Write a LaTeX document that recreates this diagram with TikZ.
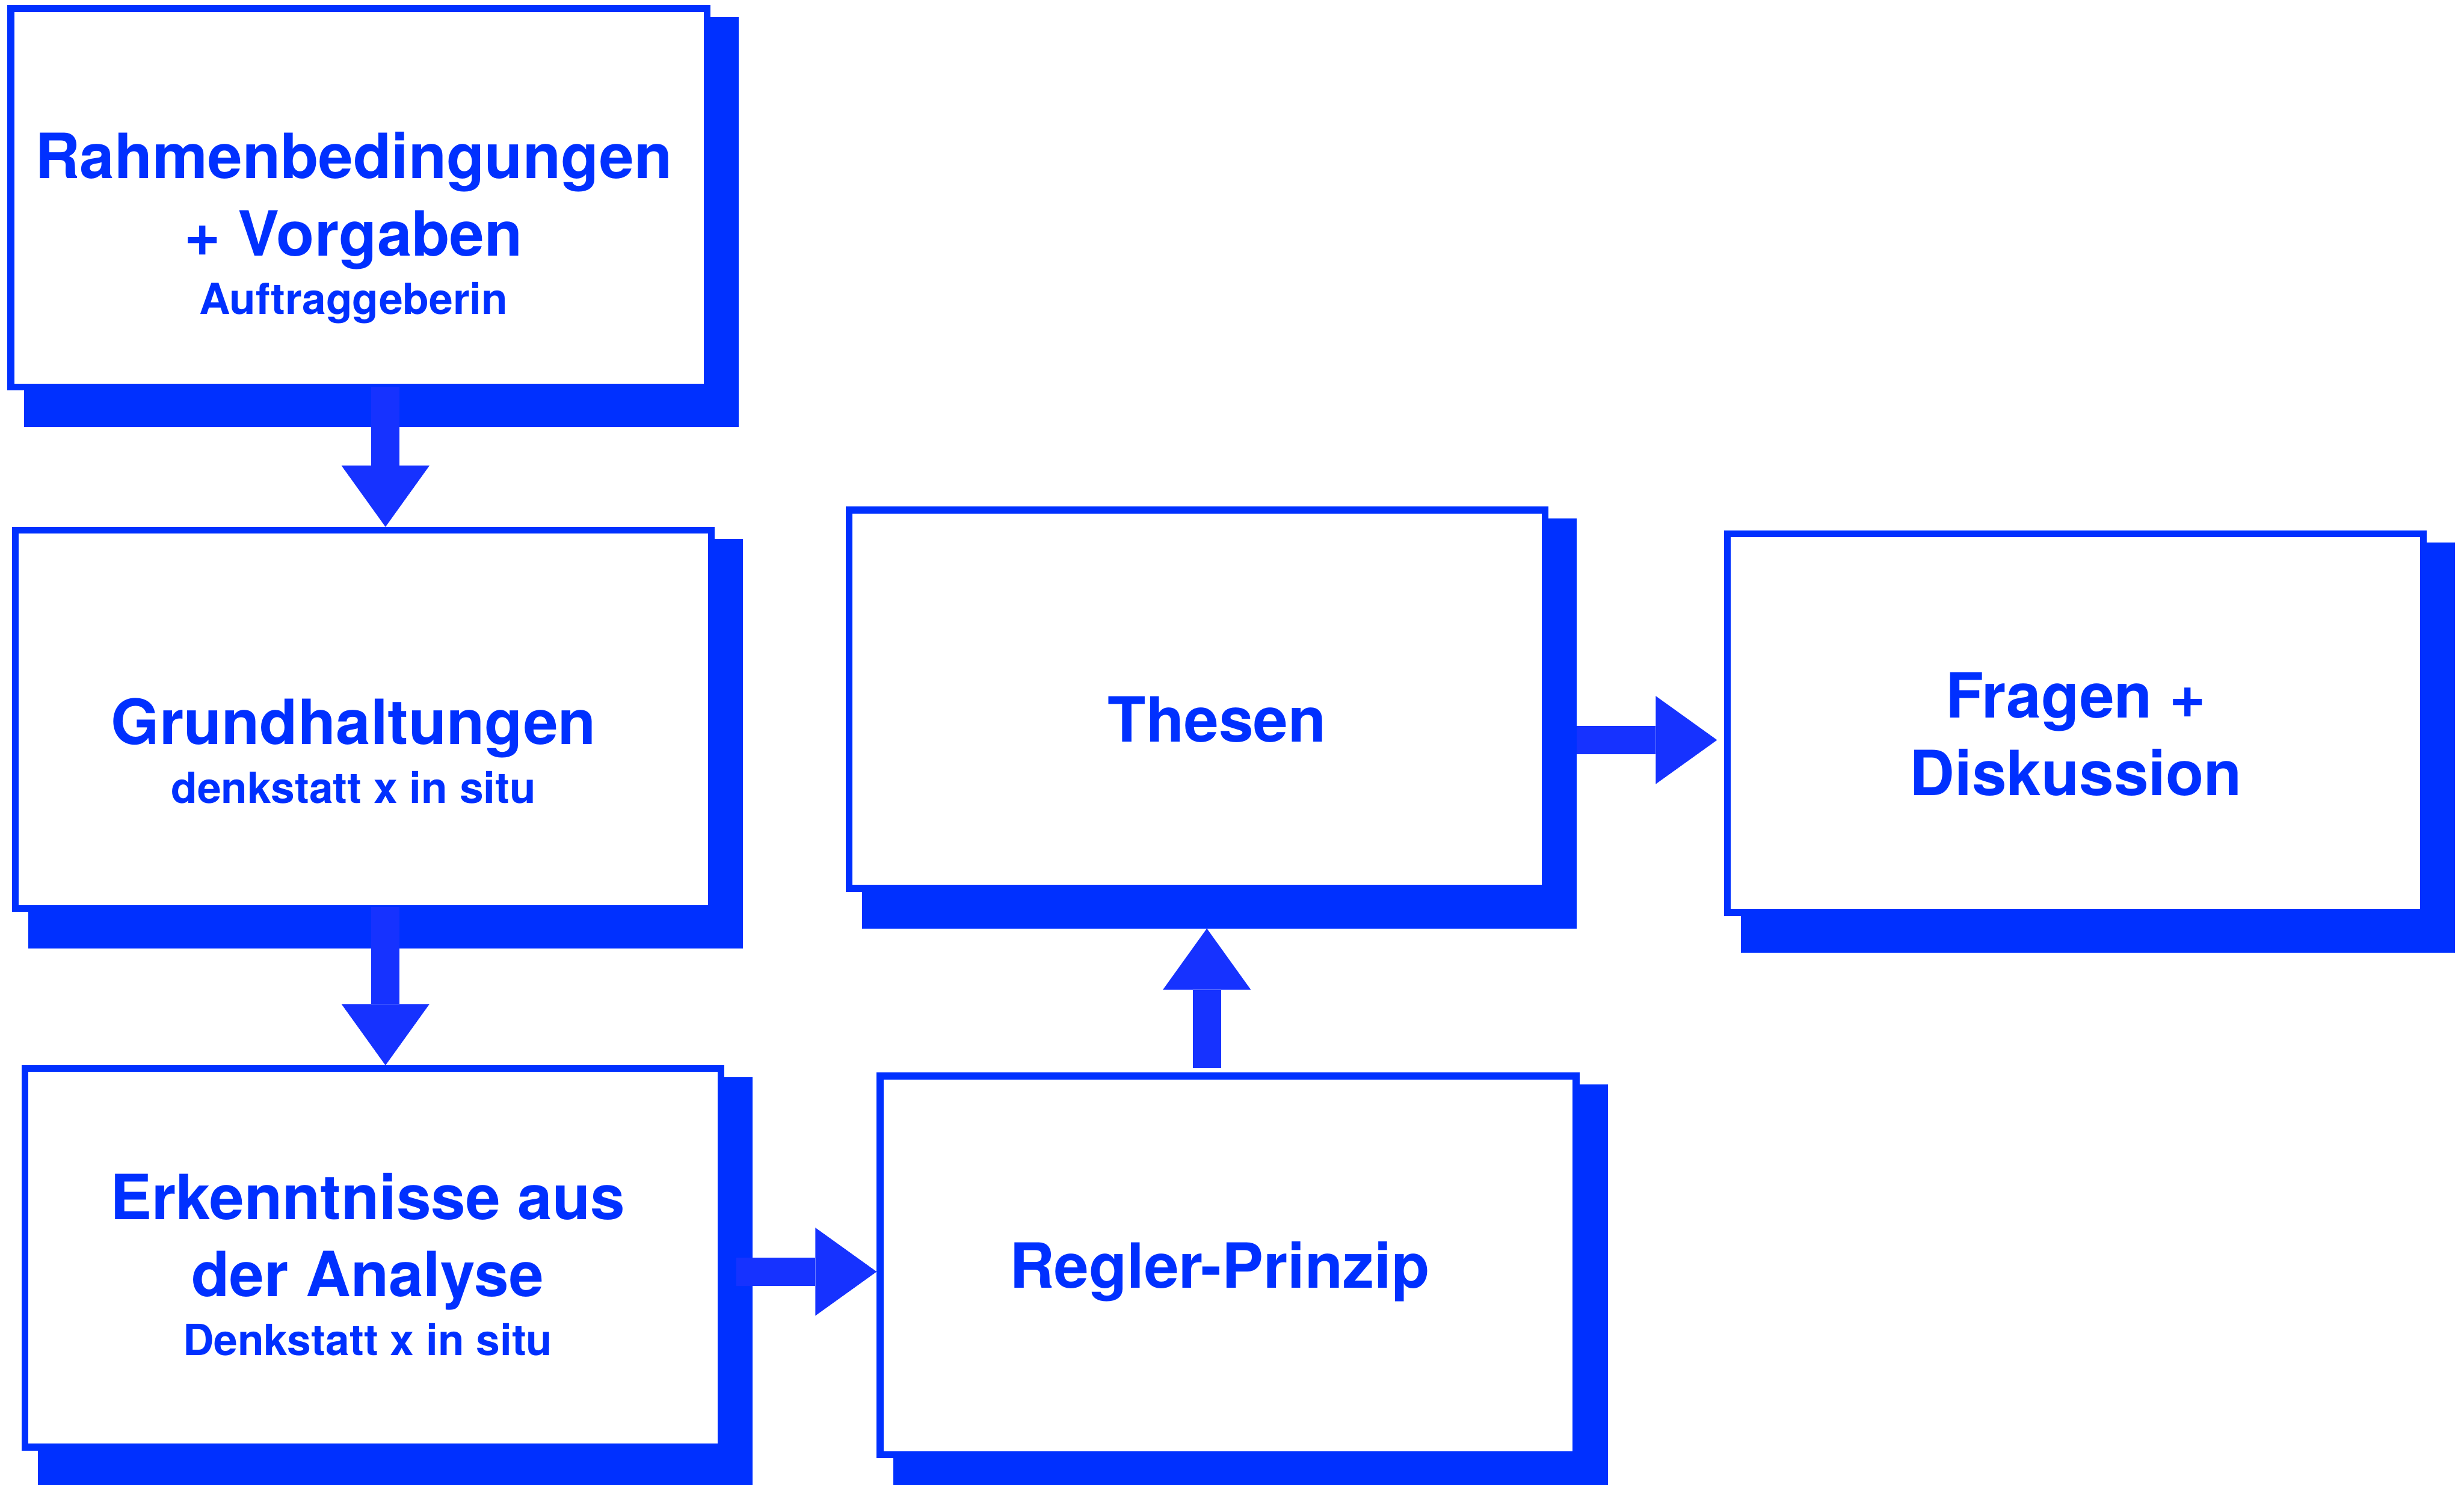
\documentclass[tikz,border=0pt]{standalone}
\usepackage{fontspec}
\setmainfont{TeX Gyre Heros}
\usepackage{tikz}
\usepackage{xcolor}
\usetikzlibrary{arrows.meta,backgrounds}

\definecolor{boxblue}{HTML}{0030FF}
\definecolor{arrowblue}{HTML}{1632FF}
\newcommand{\subtextfont}{\fontsize{7.77}{9}\selectfont}

\begin{document}
\begin{tikzpicture}[x=0.01cm,y=-0.01cm,font=\fontsize{11.27}{14.03}\selectfont\bfseries,
  box/.style={draw=boxblue,line width=0.043cm,fill=white,minimum width=4.427cm,minimum height=2.407cm,inner sep=0pt},
  boxtext/.style={text=boxblue,align=center,inner sep=0pt},
  blockarrow/.style={draw=arrowblue,line width=0.18cm,-{Triangle[width=0.56cm,length=0.39cm,line width=0pt]}}]
  \useasboundingbox (0,0) rectangle (1568,945);
  \node[box] (b1) at (228.4,125.8) {};
  \node[box] (b2) at (231.3,457.9) {};
  \node[box] (b3) at (237.4,800.6) {};
  \node[box] (b4) at (781.5,805.3) {};
  \node[box] (b5) at (761.7,445) {};
  \node[box] (b6) at (1320.8,460.3) {};
  \begin{scope}[on background layer]
    \foreach \n in {b1,b2,b3,b4,b5,b6}{ \coordinate (\n sh) at ([shift={(18,23.4)}]\n.south east); \fill[boxblue] ([shift={(10.5,7.5)}]\n.north west) rectangle (\n sh); }
  \end{scope}
  \node[boxtext] (t1) at (225,145) {Rahmenbedingungen\\+ Vorgaben\\[-3.45pt]{\subtextfont Auftraggeberin}};
  \node[boxtext] (t2) at (225,477.9) {Grundhaltungen\\[-3.45pt]{\subtextfont denkstatt x in situ}};
  \node[boxtext] (t3) at (234,804.6) {Erkenntnisse aus\\der Analyse\\[-3.45pt]{\subtextfont Denkstatt x in situ}};
  \node[boxtext] (t4) at (776,809.5) {Regler-Prinzip};
  \node[boxtext] (t5) at (774.5,458) {Thesen};
  \node[boxtext] (t6) at (1321,467.2) {Fragen +\\Diskussion};
  \draw[blockarrow] ([shift={(16.9,-2.35)}]b1.south) coordinate (a1) -- (a1 |- b2.north);
  \draw[blockarrow] ([shift={(14,-3.25)}]b2.south) coordinate (a2) -- (a2 |- b3.north);
  \draw[blockarrow] ([shift={(7.65,8.8)}]b3.east) coordinate (a3) -- (a3 -| b4.west);
  \draw[blockarrow] ([shift={(-13.5,-2.95)}]b4.north) coordinate (a4) -- (a4 |- b5sh);
  \draw[blockarrow,shorten >=0.045cm] ([shift={(17.95,26)}]b5.east) coordinate (a5) -- (a5 -| b6.west);
\end{tikzpicture}
\end{document}
